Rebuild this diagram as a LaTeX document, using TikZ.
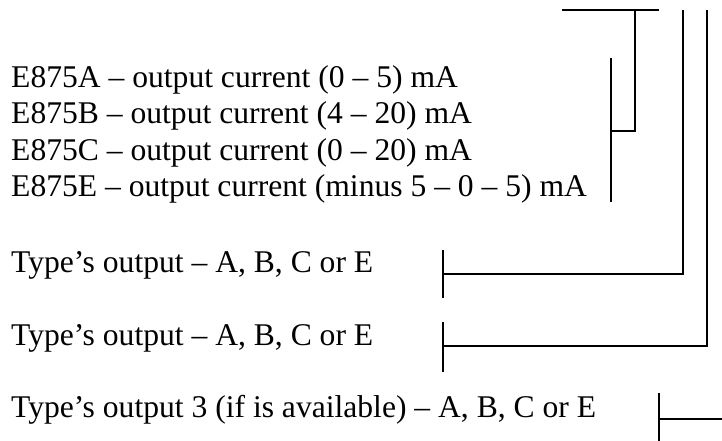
\documentclass[tikz,border=0pt]{standalone}
\usepackage{fontspec}
\setmainfont{Liberation Serif}
\begin{document}
\begin{tikzpicture}[x=1pt,y=-1pt,
  lbl/.style={anchor=base west,inner sep=0pt,font=\fontsize{31.6}{36}\selectfont},
  ln/.style={line width=1.3pt,line cap=butt}]
\useasboundingbox (0,0) rectangle (722,441);
\node[lbl] (ta) at (11,88) {E875A -- output current (0 -- 5) mA};
\node[lbl] (tb) at (11,124) {E875B -- output current (4 -- 20) mA};
\node[lbl] (tc) at (11,160) {E875C -- output current (0 -- 20) mA};
\node[lbl] (te) at (11,196) {E875E -- output current (minus 5 -- 0 -- 5) mA};
\node[lbl] (o1) at (11,272) {Type’s output -- A, B, C or E};
\node[lbl] (o2) at (11,345) {Type’s output -- A, B, C or E};
\node[lbl] (o3) at (11,417) {Type’s output 3 (if is available) -- A, B, C or E};
% top bar
\coordinate (tl) at (562,10);
\coordinate (tr) at (659,10);
\draw[ln] (tl) -- (tr);
% bracket 1
\coordinate (b1t) at (611,58);
\coordinate (b1b) at (611,202);
\coordinate (b1m) at (611,131);
\coordinate (b1c) at (635,131);
\coordinate (b1u) at (635,10);
\draw[ln] (b1t) -- (b1b);
\draw[ln] (b1m) -- (b1c) -- (b1u);
% bracket 2
\coordinate (b2t) at (443,250);
\coordinate (b2b) at (443,298);
\coordinate (b2m) at (443,274);
\coordinate (b2c) at (683,274);
\coordinate (b2u) at (683,10);
\draw[ln] (b2t) -- (b2b);
\draw[ln] (b2m) -- (b2c) -- (b2u);
% bracket 3
\coordinate (b3t) at (443,322);
\coordinate (b3b) at (443,372);
\coordinate (b3m) at (443,346);
\coordinate (b3c) at (707,346);
\coordinate (b3u) at (707,10);
\draw[ln] (b3t) -- (b3b);
\draw[ln] (b3m) -- (b3c) -- (b3u);
% bracket 4
\coordinate (b4t) at (659,393);
\coordinate (b4b) at (659,441);
\coordinate (b4m) at (659,419);
\coordinate (b4r) at (722,419);
\draw[ln] (b4t) -- (b4b);
\draw[ln] (b4m) -- (b4r);
\end{tikzpicture}
\end{document}
